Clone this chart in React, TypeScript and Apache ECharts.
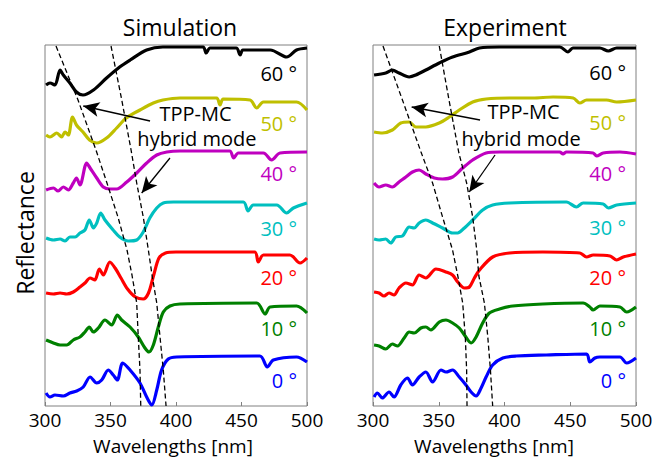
import React, { useEffect, useRef } from "react";
import * as echarts from "echarts";

// Wavelength [nm], reflectance offset (arbitrary units, stacked)
const simDeg0 = [[300.8,13],[303.8,9],[307.6,11],[314,10],[319,13],[324.2,15],[329.2,19],[334.4,29],[339.5,23],[343.3,26],[348.3,36],[352.1,31],[355.2,26],[359.3,43],[364.9,36],[372.5,23],[377.6,9],[381.5,1],[385.3,16],[389,36],[394.1,47],[400.5,49],[464,50],[469.7,39],[474.3,46],[492,49],[500,44]];
const simDeg10 = [[300.8,66],[306.4,63],[311.5,61],[316.6,61],[321.6,66],[326.7,69],[330.5,74],[333.8,79],[336.9,74],[340.7,78],[345.8,86],[350.9,81],[355.2,91],[358.5,86],[364.9,79],[371.2,69],[376.3,58],[379.4,54],[382.7,61],[386.5,79],[390.3,94],[395.4,100],[403,102],[461.6,103],[468,92],[471.8,99],[492,100],[500,93]];
const simDeg20 = [[300.8,113],[306.4,112],[311.5,113],[316.6,112],[321.6,114],[326.7,119],[330.5,123],[334.4,128],[338,126],[341.5,137],[344.5,131],[349.5,144],[353.5,138],[358,128],[363,117],[369,109],[375,107],[379,113],[383,131],[387,148],[392,153],[400,154],[460,154],[462.8,144],[466.7,151],[487,151],[494.7,143],[500,148]];
const simDeg30 = [[300.8,168],[306.4,166],[311.5,167],[315.3,165],[319,169],[323,169],[326.7,173],[330.5,176],[333.8,186],[337,178],[339.5,183],[342.5,193],[345.8,186],[352,176],[357,169],[363.6,165],[370,166],[375,174],[380,188],[385.3,198],[390.3,203],[398,204],[451.4,204],[455,195],[459,201],[476.9,201],[484.5,193],[489.6,198],[500,203]];
const simDeg40 = [[300.8,216],[306.4,218],[310,215],[314,219],[317.8,216],[321.6,223],[324,228],[326.7,221],[331.8,243],[334.4,238],[339.5,228],[344.5,219],[349.6,217],[354.7,217],[362.4,224],[370,233],[377.6,243],[385.3,251],[393,254],[403,255],[441,255],[444,248],[447.6,253],[466.7,253],[473,246],[479.4,253],[500,254]];
const simDeg50 = [[300.8,271],[303.8,269],[309,273],[312.7,269],[315.3,274],[317.8,271],[321,289],[324,281],[329,274],[334,266],[339.5,263],[347,268],[354.7,278],[362,288],[372.5,296],[382.7,303],[390,306],[403,308],[431,308],[433.6,301],[436,307],[456.5,306],[461.6,298],[466.7,304],[492,304],[500,296]];
const simDeg60 = [[300.8,321],[303.8,323],[307.6,321],[311.5,336],[314,331],[319,323],[324,314],[329,311],[337,316],[347,328],[357,339],[365,346],[377.6,356],[390,359],[420.7,359],[423,353],[426,358],[446,358],[449,351],[451,356],[472,356],[484.5,349],[492,356],[500,358]];

const expDeg0 = [[300.8,9],[303.3,13],[307.1,8],[312.2,14],[316,9],[321.1,21],[326.2,28],[330,21],[335.1,29],[340.2,34],[345.3,24],[351.7,36],[355.5,34],[360.5,36],[365.6,29],[370.7,21],[374.6,14],[378.4,10],[382.2,18],[386,29],[391,41],[398.7,48],[408.9,50],[431.8,51],[462.4,52],[464.9,44],[468.8,48],[472.5,49],[487.8,49],[492.9,43],[500,48]];
const expDeg10 = [[300.8,61],[304.6,60],[309.7,57],[314.7,62],[318.6,60],[323.7,68],[327.5,74],[331.3,73],[336.4,78],[340.2,79],[344,76],[350.4,84],[355.5,86],[360.5,83],[365.6,78],[369.5,71],[374.6,63],[378.4,69],[383.4,83],[388.5,93],[396.2,97],[406.3,100],[429.2,102],[459.8,103],[464.9,99],[467.4,96],[472.5,100],[487.8,99],[492.9,94],[500,99]];
const expDeg20 = [[300.8,114],[304.6,113],[308.4,110],[312.2,113],[316,111],[319.8,118],[325,123],[330,121],[335.1,131],[340.2,128],[347.9,137],[355.5,134],[360.5,131],[364.4,124],[369.5,118],[373.3,119],[377.1,128],[381,136],[391,149],[403.8,153],[429.2,154],[457.3,153],[462.4,149],[467.5,151],[480.2,150],[485.3,146],[490.3,149],[500,152]];
const expDeg30 = [[300.8,167],[304.6,166],[309.7,167],[313.5,163],[317.3,169],[322.4,170],[327.5,179],[331.3,178],[335.1,183],[340.2,186],[345.3,183],[352.9,178],[360.5,173],[364.4,173],[369.5,178],[375.8,186],[383.4,196],[391,201],[403.8,203],[447.1,204],[454.7,199],[459.8,203],[475,202],[478.9,198],[485.3,201],[500,203]];
const expDeg40 = [[300.8,223],[304.6,219],[309.7,221],[314.7,219],[319.8,224],[325,229],[330,234],[335.1,236],[340.2,232],[346.6,228],[352.9,227],[360.5,229],[368.2,238],[375.8,246],[386,253],[396.2,254],[442,254],[444.5,252],[447.1,254],[467.4,253],[470,250],[475,253],[487.8,254],[500,252]];
const expDeg50 = [[300.8,274],[307.1,273],[314.7,276],[321.1,283],[327.5,284],[332.6,279],[340.2,279],[350.4,283],[358,289],[365.6,296],[375.8,304],[386,307],[403.8,308],[421.6,308],[436.9,309],[452.2,308],[457.3,303],[462.4,306],[477.6,306],[485.3,304],[500,306]];
const expDeg60 = [[300.8,331],[309.7,333],[314.7,336],[319.8,333],[327.5,329],[332.6,331],[340.2,336],[350.4,343],[360.5,349],[373.3,354],[381,358],[396,359],[442,359],[448.3,354],[452,358],[472.5,358],[478.9,355],[485.3,358],[500,358]];

// Guide (dashed) lines
const simTppGuide = [[308.4,360],[325.2,306],[338.9,256],[347.3,223],[355.7,189],[362.6,156],[366.4,131],[370,103],[371.2,69],[372.5,36],[373.1,0]];
const simHybridGuide = [[350.4,360],[358.6,306],[365.7,256],[370,223],[375,189],[378.9,156],[381.7,131],[385.3,103],[387.8,69],[390.3,36],[392.4,0]];
const expTppGuide = [[307.6,360],[322.4,306],[336.5,254],[345.3,223],[352.9,189],[360.5,156],[364.8,128],[368.2,103],[370.2,69],[371.2,36],[371.5,0]];
const expHybridGuide = [[350.4,360],[357.8,306],[365.3,253],[371.2,223],[375.8,189],[378.9,156],[380.5,130],[384.7,103],[387.3,69],[389.3,36],[391,0]];

const angleLabels = ["0 °", "10 °", "20 °", "30 °", "40 °", "50 °", "60 °"];
const angleColors = ["#0000ff", "#008000", "#ff0000", "#00bfbf", "#bf00bf", "#bfbf00", "#000000"];
const simLabelY = [26, 78, 129, 178, 233, 283, 333];
const expLabelY = [26, 78, 129, 179, 233, 284, 334];
const labelX = 492.4;

const xTicks = [300, 350, 400, 450, 500];

// annotations: [text, x, y]
const simNotes: [string, number, number][] = [["TPP-MC", 414.9, 293], ["hybrid mode", 416, 268]];
const expNotes: [string, number, number][] = [["TPP-MC", 414.5, 295], ["hybrid mode", 412.6, 268]];
// arrows: [fromX, fromY, toX, toY]
const simArrows = [[380.2, 285, 329.2, 300], [395.4, 248, 373.8, 213]];
const expArrows = [[381.4, 286, 329.4, 299], [392.8, 251, 373.2, 214]];

const FONT = "'Open Sans', 'Liberation Sans', sans-serif";

export default function App() {
  const ref = useRef<HTMLDivElement>(null);
  useEffect(() => {
    if (!ref.current) return;
    const chart = echarts.init(ref.current, null, { renderer: "svg" });
    const sim = [simDeg0, simDeg10, simDeg20, simDeg30, simDeg40, simDeg50, simDeg60];
    const exp = [expDeg0, expDeg10, expDeg20, expDeg30, expDeg40, expDeg50, expDeg60];

    const curveSeries = (sets: number[][][], idx: number, labelY: number[]) =>
      sets.map((d, i) => ({
        type: "line",
        xAxisIndex: idx,
        yAxisIndex: idx,
        data: d,
        showSymbol: false,
        symbol: "none",
        smooth: 0.3,
        lineStyle: { width: 3.2, color: angleColors[i] },
        itemStyle: { color: angleColors[i] },
        z: 3,
        markPoint: {
          silent: true,
          symbol: "circle",
          symbolSize: 0,
          data: [
            {
              coord: [labelX, labelY[i]],
              label: {
                show: true,
                formatter: angleLabels[i],
                position: "left",
                distance: 0,
                color: angleColors[i],
                fontSize: 20,
                fontFamily: FONT,
              },
            },
          ],
        },
      }));

    const guideSeries = (d: number[][], idx: number, notes: [string, number, number][] | null, arrows: number[][] | null) => ({
      type: "line",
      xAxisIndex: idx,
      yAxisIndex: idx,
      data: d,
      showSymbol: false,
      symbol: "none",
      lineStyle: { width: 1.3, color: "#000", type: [5, 3] },
      z: 4,
      markPoint: notes
        ? {
            silent: true,
            symbol: "circle",
            symbolSize: 0,
            data: notes.map((n) => ({
              coord: [n[1], n[2]],
              label: { show: true, formatter: n[0], position: "inside", color: "#000", fontSize: 20, fontFamily: FONT },
            })),
          }
        : undefined,
      markLine: arrows
        ? {
            silent: true,
            symbol: ["none", "arrow"],
            symbolSize: [11, 16],
            label: { show: false },
            lineStyle: { color: "#000", width: 1.3, type: "solid" },
            data: arrows.map((a) => [{ coord: [a[0], a[1]] }, { coord: [a[2], a[3]] }]),
          }
        : undefined,
    });

    const xAxis = (gi: number) => ({
      type: "value",
      gridIndex: gi,
      min: xTicks[0],
      max: xTicks[xTicks.length - 1],
      interval: 50,
      axisLine: { show: false },
      axisTick: { show: true, inside: true, length: 4, lineStyle: { color: "#808080" } },
      splitLine: { show: false },
      axisLabel: {
        fontSize: 19,
        lineHeight: 19,
        color: "#000",
        fontFamily: FONT,
        margin: 4,
        showMinLabel: true,
        showMaxLabel: true,
      },
    });
    const yAxis = (gi: number) => ({ type: "value", gridIndex: gi, min: 0, max: 361, show: false });

    const txt = (text: string, x: number, y: number, size: number, rot = 0) => ({
      type: "text",
      x,
      y,
      rotation: rot,
      style: {
        text,
        fontSize: size,
        lineHeight: size,
        fontFamily: FONT,
        fill: "#000",
        align: "center",
        verticalAlign: "middle",
      },
    });

    chart.setOption({
      animation: false,
      backgroundColor: "#fff",
      grid: [
        { left: 45, top: 45, width: 262, height: 361, show: true, borderColor: "#808080", borderWidth: 1 },
        { left: 373, top: 45, width: 263, height: 361, show: true, borderColor: "#808080", borderWidth: 1 },
      ],
      xAxis: [xAxis(0), xAxis(1)],
      yAxis: [yAxis(0), yAxis(1)],
      graphic: [
        txt("Simulation", 180, 27, 23),
        txt("Experiment", 505, 27, 23),
        txt("Wavelengths [nm]", 173, 446, 19),
        txt("Wavelengths [nm]", 494, 446, 19),
        txt("Reflectance", 25, 233, 23, Math.PI / 2),
      ],
      series: [
        ...curveSeries(sim, 0, simLabelY),
        ...curveSeries(exp, 1, expLabelY),
        guideSeries(simTppGuide, 0, simNotes, simArrows),
        guideSeries(simHybridGuide, 0, null, null),
        guideSeries(expTppGuide, 1, expNotes, expArrows),
        guideSeries(expHybridGuide, 1, null, null),
      ],
    });
    return () => chart.dispose();
  }, []);
  return <div ref={ref} style={{ position: "absolute", left: 0, top: 0, width: 662, height: 460 }} />;
}
